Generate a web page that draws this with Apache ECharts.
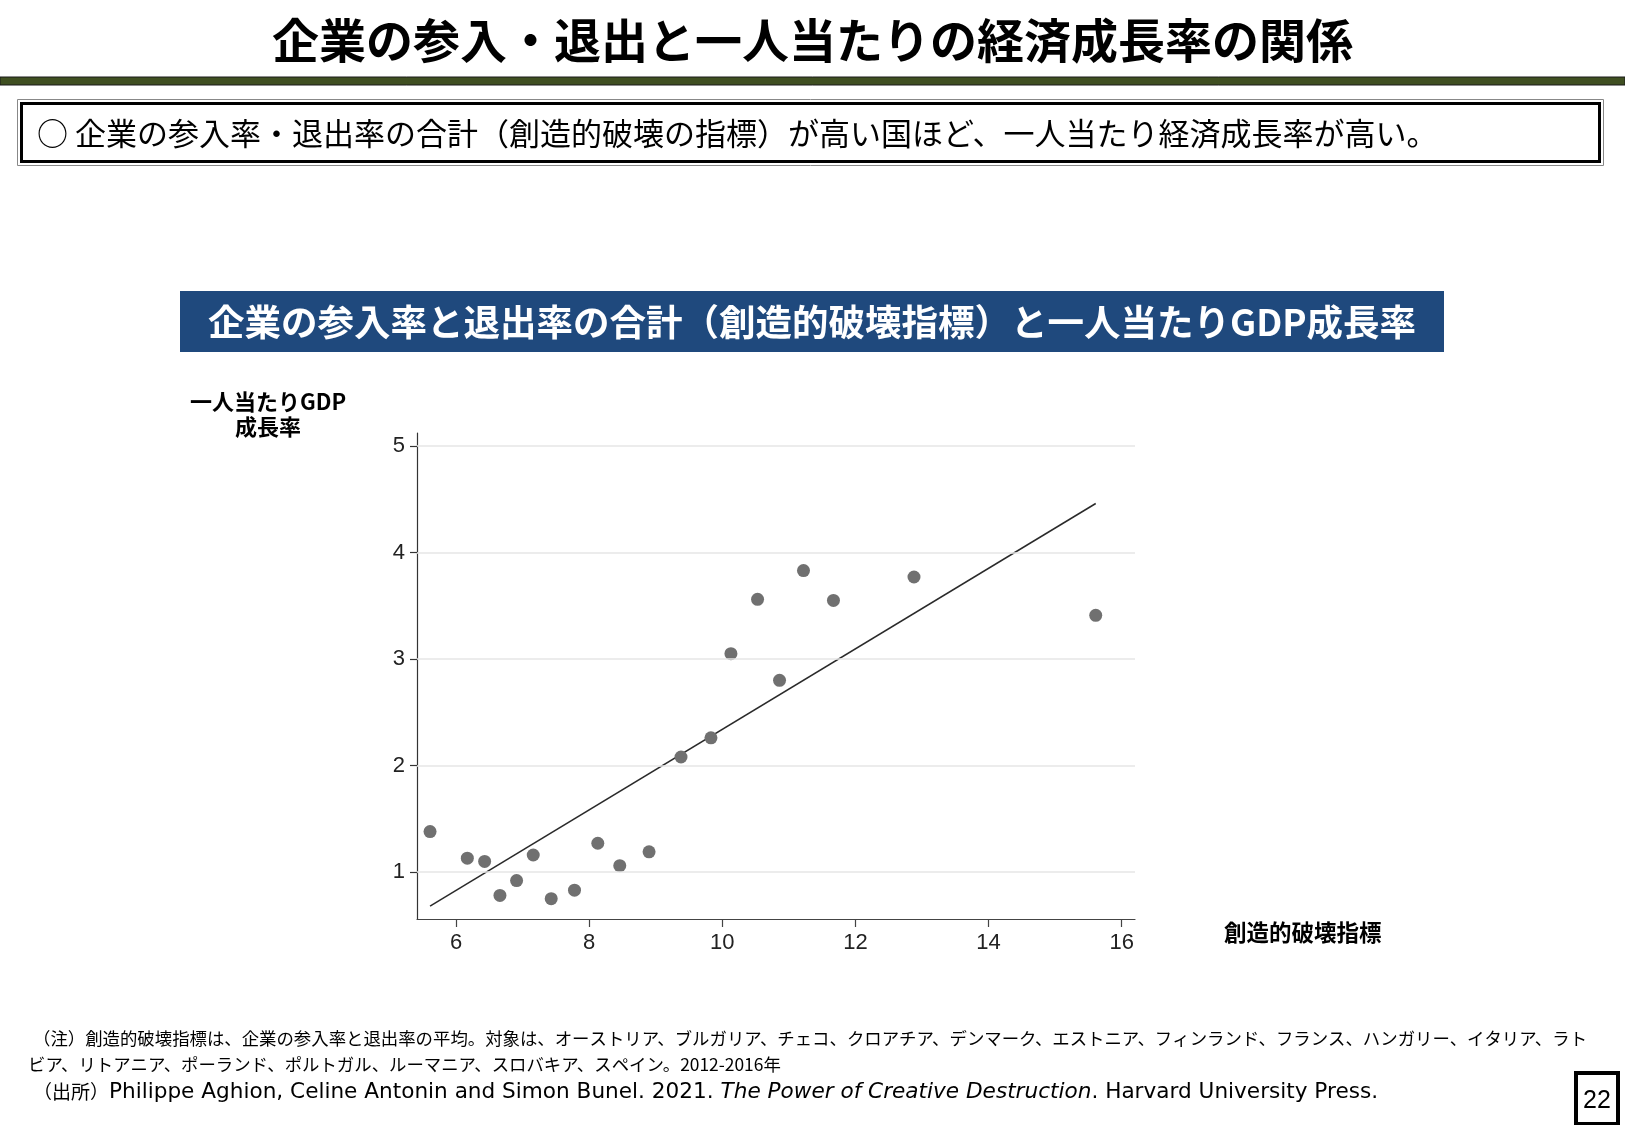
<!DOCTYPE html>
<html>
<head>
<meta charset="utf-8">
<title>企業の参入・退出と一人当たりの経済成長率の関係</title>
<script src="https://cdn.jsdelivr.net/npm/echarts@6/dist/echarts.min.js"></script>
<style>
  html, body { margin: 0; padding: 0; background: #fff; }
  #chart { width: 1625px; height: 1125px; }
</style>
</head>
<body>
<div id="chart"></div>
<script>
// 創造的破壊指標（参入率と退出率の平均）
const destruction = [5.61, 6.17, 6.43, 6.66, 6.91, 7.16, 7.43, 7.78, 8.13, 8.46,
  8.90, 9.38, 9.83, 10.13, 10.53, 10.86, 11.22, 11.67, 12.88, 15.61];
// 一人当たりGDP成長率
const gdpGrowth = [1.38, 1.13, 1.10, 0.78, 0.92, 1.16, 0.75, 0.83, 1.27, 1.06,
  1.19, 2.08, 2.26, 3.05, 3.56, 2.80, 3.83, 3.55, 3.77, 3.41];
// 回帰直線の両端
const trendX = [5.61, 15.61];
const trendY = [0.68, 4.46];
const xTicks = [6, 8, 10, 12, 14, 16];
const yTicks = [1, 2, 3, 4, 5];

const jp = '"Noto Sans CJK JP", sans-serif';
const num = '"Liberation Sans", Arial, sans-serif';

var myChart = echarts.init(document.getElementById('chart'));

var option = {
  animation: false,
  backgroundColor: '#fff',
  grid: { left: 417, top: 433, width: 718, height: 486, containLabel: false },
  xAxis: {
    type: 'value',
    min: 5.414,
    max: 16.2,
    axisLine: { show: true, lineStyle: { color: '#444', width: 1.2 } },
    axisTick: { show: true, length: 8, customValues: xTicks, lineStyle: { color: '#444', width: 1.2 } },
    axisLabel: { customValues: xTicks, margin: 13, color: '#222', fontSize: 22, fontFamily: num },
    splitLine: { show: false }
  },
  yAxis: {
    type: 'value',
    min: 0.559,
    max: 5.122,
    axisLine: { show: true, lineStyle: { color: '#333', width: 1.2 } },
    axisTick: { show: true, length: 7, customValues: yTicks, lineStyle: { color: '#333', width: 1.2 } },
    axisLabel: { customValues: yTicks, margin: 12, color: '#222', fontSize: 22, fontFamily: num },
    splitLine: { show: false }
  },
  series: [
    {
      type: 'line',
      z: 1,
      data: trendX.map((x, i) => [x, trendY[i]]),
      showSymbol: false,
      lineStyle: { color: '#2a2a2a', width: 1.5 },
      markLine: {
        silent: true,
        symbol: 'none',
        label: { show: false },
        lineStyle: { color: '#e6e6e6', width: 1.5, type: 'solid' },
        data: yTicks.map(v => ({ yAxis: v }))
      }
    },
    {
      type: 'scatter',
      z: 3,
      data: destruction.map((x, i) => [x, gdpGrowth[i]]),
      symbolSize: 13,
      itemStyle: { color: '#707070', opacity: 1 }
    }
  ],
  graphic: [
    // スライドタイトル
    {
      type: 'text', left: 'center', top: 17,
      style: { text: '企業の参入・退出と一人当たりの経済成長率の関係', fill: '#000',
        font: 'bold 47px ' + jp }
    },
    {
      type: 'rect', shape: { x: 0, y: 77, width: 1625, height: 8 },
      style: { fill: '#3f4f21', stroke: '#1b1b1b', lineWidth: 1 }
    },
    // 要点ボックス
    {
      type: 'rect', shape: { x: 17.5, y: 99.5, width: 1586, height: 66 },
      style: { fill: '#fff', stroke: '#888', lineWidth: 1 }
    },
    {
      type: 'rect', shape: { x: 21.5, y: 103.5, width: 1578, height: 58 },
      style: { fill: 'none', stroke: '#000', lineWidth: 3 }
    },
    {
      type: 'text', x: 37, y: 133,
      style: { text: '○ 企業の参入率・退出率の合計（創造的破壊の指標）が高い国ほど、一人当たり経済成長率が高い。',
        fill: '#000', font: '31px ' + jp, textVerticalAlign: 'middle' }
    },
    // グラフ見出し
    {
      type: 'rect', shape: { x: 180, y: 291, width: 1264, height: 61 },
      style: { fill: '#1f497d' }
    },
    {
      type: 'text', x: 812, y: 322,
      style: { text: '企業の参入率と退出率の合計（創造的破壊指標）と一人当たりGDP成長率',
        fill: '#fff', font: 'bold 36.5px ' + jp, textAlign: 'center', textVerticalAlign: 'middle' }
    },
    // 軸名
    {
      type: 'text', x: 268, y: 402,
      style: { text: '一人当たりGDP', fill: '#000', font: 'bold 22px ' + jp,
        textAlign: 'center', textVerticalAlign: 'middle' }
    },
    {
      type: 'text', x: 268, y: 427,
      style: { text: '成長率', fill: '#000', font: 'bold 22px ' + jp,
        textAlign: 'center', textVerticalAlign: 'middle' }
    },
    {
      type: 'text', x: 1224, y: 932,
      style: { text: '創造的破壊指標', fill: '#000', font: 'bold 22.5px ' + jp,
        textVerticalAlign: 'middle' }
    },
    // 注記・出所
    {
      type: 'text', x: 33, y: 1038,
      style: { text: '（注）創造的破壊指標は、企業の参入率と退出率の平均。対象は、オーストリア、ブルガリア、チェコ、クロアチア、デンマーク、エストニア、フィンランド、フランス、ハンガリー、イタリア、ラト',
        fill: '#000', font: '17.4px ' + jp, textVerticalAlign: 'middle' }
    },
    {
      type: 'text', x: 28, y: 1064,
      style: { text: 'ビア、リトアニア、ポーランド、ポルトガル、ルーマニア、スロバキア、スペイン。2012-2016年',
        fill: '#000', font: '17.4px ' + jp, textVerticalAlign: 'middle' }
    },
    {
      type: 'text', x: 33, y: 1092,
      style: {
        text: '{a|（出所）}{b|Philippe Aghion, Celine Antonin and Simon Bunel. 2021. }{i|The Power of Creative Destruction}{b|. Harvard University Press.}',
        textVerticalAlign: 'middle',
        rich: {
          a: { fill: '#000', fontSize: 19, fontFamily: '"Noto Sans CJK JP"' },
          b: { fill: '#000', fontSize: 21.6, fontFamily: '"DejaVu Sans"' },
          i: { fill: '#000', fontSize: 21.6, fontFamily: '"DejaVu Sans"', fontStyle: 'italic' }
        }
      }
    },
    // ページ番号
    {
      type: 'rect', shape: { x: 1576, y: 1073, width: 42, height: 51 },
      style: { fill: '#fff', stroke: '#000', lineWidth: 4 }
    },
    {
      type: 'text', x: 1597, y: 1101,
      style: { text: '22', fill: '#000', font: '25px ' + num, textAlign: 'center', textVerticalAlign: 'middle' }
    }
  ]
};

myChart.setOption(option);
</script>
</body>
</html>
